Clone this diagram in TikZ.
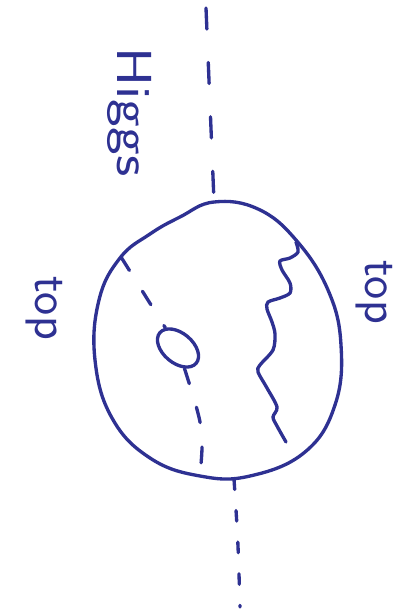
\documentclass[tikz,border=0pt]{standalone}
\usepackage{tikz}
\usetikzlibrary{shapes.geometric, positioning}
\definecolor{ink}{RGB}{46,49,146}

\begin{document}
\begin{tikzpicture}[x=0.02cm, y=-0.02cm, color=ink, line width=1.9pt, line cap=round,
    higgs/.style={dash pattern=on 12pt off 19pt},
    scalar/.style={dash pattern=on 9pt off 14pt},
    tail/.style={dash pattern=on 6pt off 12pt},
    hand/.style={rotate=-90, font=\sffamily\fontsize{28}{28}\selectfont, inner sep=0pt}]
    \useasboundingbox (0, 0) rectangle (409, 613);

    % vertices on the top loop
    \coordinate (hin)   at (206, 8);
    \coordinate (vtop)  at (214, 201);
    \coordinate (vleft) at (121, 257);
    \coordinate (vbot)  at (200, 476);
    \coordinate (vout)  at (234, 479);
    \coordinate (hend)  at (240, 607);
    \coordinate (gin)   at (296, 242);
    \coordinate (gend)  at (286, 442);

    % external Higgs legs
    \draw[higgs] (hin) -- (vtop);
    \draw[tail] (vout) .. controls (238, 540) .. (hend);

    % top quark loop
    \draw plot[smooth cycle, tension=0.7] coordinates {
        (214, 202) (258, 209) (296, 240) (328, 290) (341, 345) (335, 405)
        (305, 452) (250, 476) (200, 476) (150, 458) (112, 418) (95, 360)
        (99, 300) (120, 258) (150, 234) (180, 217)};

    % blob and internal scalar line
    \node[draw, ellipse, rotate=-40, minimum width=27pt, minimum height=17pt, inner sep=0pt] (blob) at (178, 348) {};
    \draw[scalar] (vleft) -- (blob);
    \draw[scalar] (blob) .. controls (204, 430) .. (vbot);

    % gluon
    \draw plot[smooth, tension=0.5] coordinates {
        (gin) (298, 252) (290, 258) (280, 261) (282, 270) (290, 283) (290, 293)
        (280, 298) (268, 302) (267, 309) (272, 322) (275, 334) (273, 350)
        (260, 365) (258, 372) (267, 388) (277, 407) (273, 417) (277, 426) (gend)};

    % labels
    \node[hand, xscale=1.2] (lhiggs) at (130, 112) {Higgs};
    \node[hand] (ltopl) at (44, 308) {top};
    \node[hand] (ltopr) at (374, 292) {top};
\end{tikzpicture}
\end{document}
